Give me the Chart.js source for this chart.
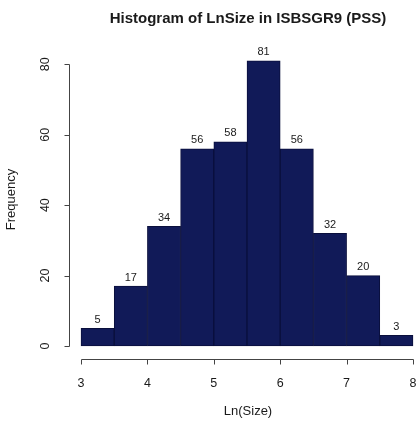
<!DOCTYPE html>
<html>
<head>
<meta charset="utf-8">
<script src="https://cdn.jsdelivr.net/npm/chart.js@4/dist/chart.umd.min.js"></script>
<style>
  html, body { margin: 0; padding: 0; background: #ffffff; overflow: hidden; }
  #wrap { width: 416px; height: 423px; overflow: hidden; position: relative; }
  #hist { display: block; }
</style>
</head>
<body>
<div id="wrap"><canvas id="hist" width="436" height="423"></canvas></div>
<script>
// Histogram bins of ln(size): lower edges, bin width and counts
const binStarts = [3.0, 3.5, 4.0, 4.5, 5.0, 5.5, 6.0, 6.5, 7.0, 7.5];
const binWidth = 0.5;
const counts = [5, 17, 34, 56, 58, 81, 56, 32, 20, 3];
const xTickValues = [3, 4, 5, 6, 7, 8];
const yTickValues = [0, 20, 40, 60, 80];

const FONT = "'Liberation Sans', Arial, Helvetica, sans-serif";
const INK = '#1a1a1a';
const AXIS = '#444444';

const points = binStarts.map((s, i) => ({ x: s + binWidth / 2, y: counts[i] }));

// R-style detached axes: line spans only the first..last tick, with short tick marks
const rAxes = {
  id: 'rAxes',
  afterDraw(chart) {
    const { ctx, chartArea, scales: { x, y } } = chart;
    ctx.save();
    ctx.strokeStyle = AXIS;
    ctx.lineWidth = 1;
    const by = Math.round(chartArea.bottom) + 0.5;
    const x0 = Math.round(x.getPixelForValue(xTickValues[0])) + 0.5;
    const x1 = Math.round(x.getPixelForValue(xTickValues[xTickValues.length - 1])) + 0.5;
    ctx.beginPath();
    ctx.moveTo(x0, by);
    ctx.lineTo(x1, by);
    xTickValues.forEach(v => {
      const px = Math.round(x.getPixelForValue(v)) + 0.5;
      ctx.moveTo(px, by);
      ctx.lineTo(px, by + 5);
    });
    const lx = Math.round(chartArea.left) + 0.5;
    const y0 = Math.round(y.getPixelForValue(yTickValues[0])) + 0.5;
    const y1 = Math.round(y.getPixelForValue(yTickValues[yTickValues.length - 1])) + 0.5;
    ctx.moveTo(lx, y0);
    ctx.lineTo(lx, y1);
    yTickValues.forEach(v => {
      const py = Math.round(y.getPixelForValue(v)) + 0.5;
      ctx.moveTo(lx, py);
      ctx.lineTo(lx - 5, py);
    });
    ctx.stroke();
    ctx.restore();
  }
};

// Count labels above each bar
const barLabels = {
  id: 'barLabels',
  afterDatasetsDraw(chart) {
    const { ctx } = chart;
    const meta = chart.getDatasetMeta(0);
    ctx.save();
    ctx.fillStyle = INK;
    ctx.font = '11px ' + FONT;
    ctx.textAlign = 'center';
    ctx.textBaseline = 'bottom';
    meta.data.forEach((bar, i) => {
      ctx.fillText(String(counts[i]), bar.x, bar.y - 3);
    });
    ctx.restore();
  }
};

new Chart(document.getElementById('hist'), {
  type: 'bar',
  data: {
    datasets: [{
      data: points,
      backgroundColor: '#111a58',
      borderColor: '#0a0f3c',
      borderWidth: 1,
      barPercentage: 1.0,
      categoryPercentage: 1.0,
      borderSkipped: false
    }]
  },
  options: {
    responsive: false,
    animation: false,
    devicePixelRatio: 1,
    layout: { padding: { left: 0, right: 9, top: 0, bottom: 0 } },
    plugins: {
      legend: { display: false },
      tooltip: { enabled: false },
      title: {
        display: true,
        text: 'Histogram of LnSize in ISBSGR9 (PSS)',
        fullSize: false,
        color: INK,
        font: { family: FONT, size: 15, weight: 'bold' },
        padding: { top: 9.7, bottom: 12.3 }
      }
    },
    scales: {
      x: {
        type: 'linear',
        offset: false,
        min: 2.819,
        max: 8.211,
        grid: { display: false, drawTicks: false },
        border: { display: false },
        afterBuildTicks(scale) { scale.ticks = xTickValues.map(v => ({ value: v })); },
        afterFit(scale) { scale.height = 64; scale.paddingLeft = 0; scale.paddingRight = 0; },
        ticks: {
          color: INK,
          font: { family: FONT, size: 12.5 },
          padding: 17,
          maxRotation: 0,
          autoSkip: false,
          callback: v => String(v)
        },
        title: {
          display: true,
          text: 'Ln(Size)',
          color: INK,
          font: { family: FONT, size: 13 },
          padding: { top: 0, bottom: 3.5 }
        }
      },
      y: {
        type: 'linear',
        min: -3.69,
        max: 86.9,
        grid: { display: false, drawTicks: false },
        border: { display: false },
        afterBuildTicks(scale) { scale.ticks = yTickValues.map(v => ({ value: v })); },
        afterFit(scale) { scale.width = 69; scale.paddingTop = 0; scale.paddingBottom = 0; },
        ticks: {
          color: INK,
          font: { family: FONT, size: 12.5 },
          padding: 17,
          minRotation: 90,
          maxRotation: 90,
          crossAlign: 'center',
          autoSkip: false,
          callback: v => String(v)
        },
        title: {
          display: true,
          text: 'Frequency',
          color: INK,
          font: { family: FONT, size: 13 },
          padding: { top: 3.9, bottom: 0 }
        }
      }
    }
  },
  plugins: [rAxes, barLabels]
});
</script>
</body>
</html>
